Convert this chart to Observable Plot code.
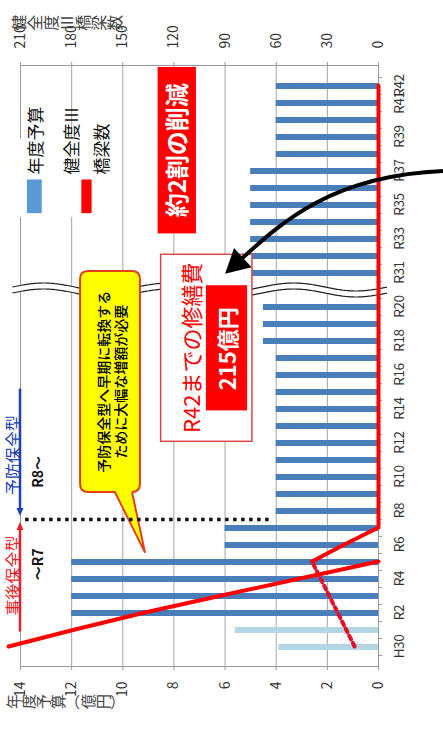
<!DOCTYPE html>
<html lang="ja"><head><meta charset="utf-8">
<script src="https://cdn.jsdelivr.net/npm/d3@7"></script>
<script src="https://cdn.jsdelivr.net/npm/@observablehq/plot@0.6"></script>
<style>
html,body{margin:0;padding:0;background:#fff;}
body{width:443px;height:738px;overflow:hidden;position:relative;}
#chart{position:absolute;left:0;top:0;width:738px;height:443px;transform-origin:0 0;transform:translate(0,738px) rotate(-90deg);}
#chart svg{max-width:none !important;display:block;}
#chart svg g[aria-label="x-axis tick label"] text{letter-spacing:-0.4px;}
</style></head><body><div id="chart"></div>
<script>
// ---- categories & ticks ----
const GAP = "～";
const categories = ["H30","R1","R2","R3","R4","R5","R6","R7","R8","R9","R10","R11","R12","R13","R14","R15","R16","R17","R18","R19","R20",GAP,"R31","R32","R33","R34","R35","R36","R37","R38","R39","R40","R41","R42"];
const tickLabels = ["H30","R2","R4","R6","R8","R10","R12","R14","R16","R18","R20","R31","R33","R35","R37","R39","R41","R42"];
const budgetTicks = [0,2,4,6,8,10,12,14];
const bridgeTicks = [0,30,60,90,120,150,180,210];

// ---- 年度予算（億円） ----
const budgetYears = ["H30","R1","R2","R3","R4","R5","R6","R7","R8","R9","R10","R11","R12","R13","R14","R15","R16","R17","R18","R19","R20","R31","R32","R33","R34","R35","R36","R37","R38","R39","R40","R41","R42"];
const budgetValues = [3.9,5.6,12,12,12,12,6,6,4,4,4,4,4,4,4,4,4,4,4.5,4.5,4.5,5,5,5,5,5,5,5,4,4,4,4,4];
const actualYears = ["H30","R1"];

// ---- 健全度Ⅲ橋梁数 ----
const declineYears = ["H30","R1","R2","R3","R4","R5"];
const declineCounts = [217,178,137,92,46,0];
const trendYears = ["H30","R1","R2","R3","R4","R5"];
const trendCounts = [14,19,24,29,34,39];
const preventiveYears = ["R5","R6","R7","R8","R9","R10","R11","R12","R13","R14","R15","R16","R17","R18","R19","R20","R31","R32","R33","R34","R35","R36","R37","R38","R39","R40","R41","R42"];
const preventiveCounts = [39,20,0,0,0,0,0,0,0,0,0,0,0,0,0,0,0,0,0,0,0,0,0,0,0,0,0,0];

const k = bridgeTicks[bridgeTicks.length-1] / budgetTicks[budgetTicks.length-1];
const FONT = "'Noto Sans CJK JP','Noto Sans',sans-serif";
const RED = "#ff0000", DARK = "#4a7ebb", LIGHT = "#b4d6e4";

const budgetRows = budgetYears.map((year, i) => ({year, value: budgetValues[i]}));
const declineRows = declineYears.map((year, i) => ({year, count: declineCounts[i]}));
const trendRows = trendYears.map((year, i) => ({year, count: trendCounts[i]}));
const preventiveRows = preventiveYears.map((year, i) => ({year, count: preventiveCounts[i]}));

function helpers(scales) {
  const {x, y} = scales;
  const bw = typeof x.bandwidth === "function" ? x.bandwidth() : 0;
  const step = x(categories[1]) - x(categories[0]);
  const X = i => x(categories[0]) + bw / 2 + i * step;
  return {X, Y: v => y(v), step};
}

function breakMark(index, scales) {
  const {X, Y} = helpers(scales);
  const g = d3.create("svg:g");
  const c = X(categories.indexOf(GAP));
  const top = Y(14.3);
  const vs = d3.range(-0.35, 14.31, 0.05).map(Y);
  const wave = off => vs.map(py => [c + off + 4 * Math.sin((py - top) / 125 * 2 * Math.PI), py]);
  const a = wave(-3), b = wave(3);
  g.append("path").attr("d", d3.line()(a.concat(b.slice().reverse())) + "Z").attr("fill", "#fff");
  for (const w of [a, b]) g.append("path").attr("d", d3.line()(w)).attr("fill", "none").attr("stroke", "#222").attr("stroke-width", 1.2);
  for (let i = 0; i <= categories.length; i++) {
    g.append("line").attr("x1", X(i - 0.5)).attr("x2", X(i - 0.5)).attr("y1", Y(0)).attr("y2", Y(0) + 4).attr("stroke", "#999");
  }
  return g.node();
}

function annotate(index, scales) {
  const {X, Y} = helpers(scales);
  const g = d3.create("svg:g").attr("font-family", FONT);
  const box = (i0, i1, v0, v1) => g.append("rect").attr("x", X(i0)).attr("width", X(i1) - X(i0)).attr("y", Y(v0)).attr("height", Y(v1) - Y(v0));
  const label = (str, i, v, size, fill, anchor = "middle") => g.append("text").attr("x", X(i)).attr("y", Y(v))
    .attr("dominant-baseline", "central").attr("text-anchor", anchor).attr("font-size", size).attr("fill", fill).text(str);
  const arrowHead = (tip, from, L, W, fill) => {
    const dx = tip[0] - from[0], dy = tip[1] - from[1], n = Math.hypot(dx, dy);
    const ux = dx / n, uy = dy / n, bx = tip[0] - ux * L, by = tip[1] - uy * L;
    g.append("path").attr("d", `M${tip}L${bx - uy * W},${by + ux * W}L${bx + uy * W},${by - ux * W}Z`).attr("fill", fill);
  };
  // vertical (tategaki) text: one glyph per cell, brackets turned to their vertical form
  const vertical = (str, i, v, size, fill) => {
    const cx = X(i), y0 = Y(v);
    const vg = g.append("g").attr("font-size", size).attr("fill", fill).attr("aria-label", str);
    Array.from(str).forEach((ch, j) => {
      vg.append("text").attr("text-anchor", "middle").attr("dominant-baseline", "central")
        .attr("transform", `translate(${cx},${y0 + size * (j + 0.5)})${"（）()".includes(ch) ? " rotate(90)" : ""}`)
        .text(ch);
    });
  };

  // legend
  box(25.3, 29.9, 14.2, 10.3).attr("fill", "#fff");
  box(25.52, 27.5, 13.73, 13.15).attr("fill", "#5b9bd5");
  label("年度予算", 27.8, 13.43, 17, "#111", "start");
  box(25.52, 27.5, 11.6, 11.2).attr("fill", RED);
  label("健全度Ⅲ", 27.8, 12.04, 17, "#111", "start");
  label("橋梁数", 27.8, 10.87, 17, "#111", "start");

  // 約2割の削減
  box(24.33, 34.12, 8.62, 7.12).attr("fill", RED);
  label("約2割の削減", 29.22, 7.9, 24, "#fff").attr("font-weight", "bold");

  // R42までの修繕費
  box(12.1, 23.1, 8.5, 4.93).attr("fill", "#fff").attr("stroke", "#d84848").attr("stroke-width", 1.5);
  label("R42までの修繕費", 17.6, 7.35, 22, RED);
  box(13.92, 21.28, 6.73, 5.12).attr("fill", RED);
  label("215億円", 17.55, 5.94, 22, "#fff").attr("font-weight", "bold");

  // yellow callout
  {
    const u0 = X(9.12), u1 = X(22.12), v0 = Y(11.65), v1 = Y(9.31), r = 8;
    const pb1 = Y(10.29), pb2 = Y(9.62), tip = [X(5.55), Y(9.11)];
    const d = `M${u0 + r},${v0}H${u1 - r}Q${u1},${v0} ${u1},${v0 + r}V${v1 - r}Q${u1},${v1} ${u1 - r},${v1}H${u0 + r}Q${u0},${v1} ${u0},${v1 - r}V${pb2}L${tip}L${u0},${pb1}V${v0 + r}Q${u0},${v0} ${u0 + r},${v0}Z`;
    g.append("path").attr("d", d).attr("fill", "#ffff00").attr("stroke", "#e0401c").attr("stroke-width", 2);
    label("予防保全型へ早期に転換する", 15.6, 10.75, 14, "#000").attr("font-weight", 500);
    label("ために大幅な増額が必要", 15.6, 10.09, 14, "#000").attr("font-weight", 500);
  }

  // boundary between R7 and R8
  g.append("line").attr("x1", X(7.5)).attr("x2", X(7.5)).attr("y1", Y(13.8)).attr("y2", Y(4.15))
    .attr("stroke", "#111").attr("stroke-width", 3.5).attr("stroke-dasharray", "3.5,4.5");

  // 事後保全型 / 予防保全型 arrows
  g.append("line").attr("x1", X(0.91)).attr("x2", X(7.0)).attr("y1", Y(14)).attr("y2", Y(14)).attr("stroke", "#e8202a").attr("stroke-width", 2.5);
  arrowHead([X(7.36), Y(14)], [X(0.91), Y(14)], 8, 3.5, "#e8202a");
  g.append("line").attr("x1", X(15.2)).attr("x2", X(8.05)).attr("y1", Y(14)).attr("y2", Y(14)).attr("stroke", "#2040b8").attr("stroke-width", 2.5);
  arrowHead([X(7.7), Y(14)], [X(15.2), Y(14)], 8, 3.5, "#2040b8");
  label("事後保全型", 4.2, 14.33, 16, "#e8202a");
  label("予防保全型", 11.3, 14.33, 16, "#2040b8");
  label("～R7", 4.87, 13.34, 14, "#111").attr("font-weight", "bold");
  label("R8～", 10.3, 13.34, 14, "#111").attr("font-weight", "bold");

  // curved black arrow
  {
    const P0 = [X(28.0), Y(-2.54)], P1 = [X(27.72), Y(1.88)], P2 = [X(24.9), Y(3.83)], P3 = [X(21.95), Y(5.98)];
    const dx = P3[0] - P2[0], dy = P3[1] - P2[1], n = Math.hypot(dx, dy);
    const end = [P3[0] - dx / n * 18, P3[1] - dy / n * 18];
    g.append("path").attr("d", `M${P0}C${P1} ${P2} ${end}`).attr("fill", "none").attr("stroke", "#000").attr("stroke-width", 4);
    arrowHead(P3, P2, 24, 13, "#000");
  }

  // axis titles (vertical)
  vertical("年度予算（億円）", -3.2, 14.59, 15, "#444");
  vertical("健全度Ⅲ橋梁数", 36.72, 14.39, 16, "#444");
  return g.node();
}

const chart = Plot.plot({
  width: 738, height: 443,
  marginLeft: 71, marginRight: 66, marginTop: 20, marginBottom: 65,
  style: {fontFamily: FONT, fontSize: "14px", background: "#fff", color: "#333", overflow: "visible"},
  x: {type: "band", domain: categories, paddingInner: 0.66, paddingOuter: 0.33, axis: null},
  y: {domain: [0, 14], axis: null},
  marks: [
    Plot.gridY(budgetTicks, {stroke: "#a6a6a6", strokeOpacity: 1}),
    Plot.frame({stroke: "#9a9a9a"}),
    Plot.barY(budgetRows, {x: "year", y: "value", fill: d => actualYears.includes(d.year) ? LIGHT : DARK}),
    breakMark,
    Plot.line(trendRows, {x: "year", y: d => d.count / k, stroke: "#e0102a", strokeWidth: 4, strokeDasharray: "4,4"}),
    Plot.line(declineRows, {x: "year", y: d => d.count / k, stroke: RED, strokeWidth: 4, strokeLinejoin: "round"}),
    Plot.line(preventiveRows, {x: "year", y: d => d.count / k, stroke: RED, strokeWidth: 4, strokeLinejoin: "round"}),
    Plot.axisX({ticks: tickLabels, tickSize: 0, tickPadding: 16, label: null, anchor: "bottom", fill: "#333", fontSize: 13.5}),
    Plot.axisY(budgetTicks, {anchor: "left", tickSize: 3, tickPadding: 12, label: null, stroke: "#9a9a9a", fill: "#333"}),
    Plot.axisY(budgetTicks, {anchor: "right", tickSize: 3, tickPadding: 14, label: null, tickFormat: d => d * k, stroke: "#9a9a9a", fill: "#333"}),
    annotate
  ]
});
document.getElementById("chart").appendChild(chart);
</script></body></html>
